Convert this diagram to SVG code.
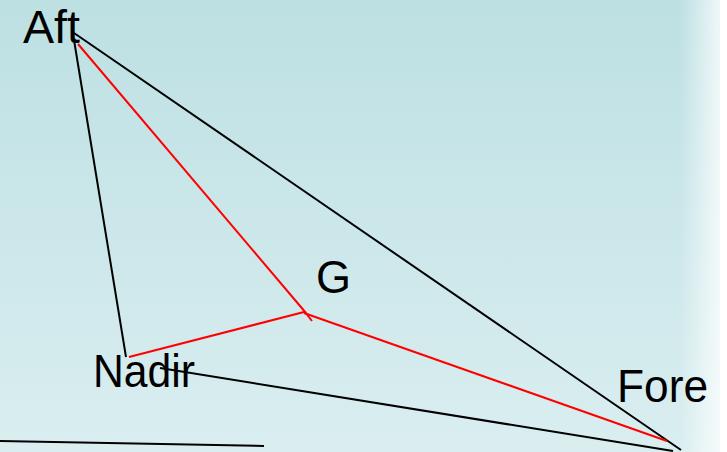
<svg xmlns="http://www.w3.org/2000/svg" width="727" height="452" viewBox="0 0 727 452">
<defs>
<linearGradient id="bg" x1="0" y1="0" x2="0" y2="1">
<stop offset="0" stop-color="#bde0e3"/>
<stop offset="1" stop-color="#daeef0"/>
</linearGradient>
<linearGradient id="edge" x1="0" y1="0" x2="1" y2="0">
<stop offset="0" stop-color="#ffffff" stop-opacity="0"/>
<stop offset="1" stop-color="#ffffff" stop-opacity="0.75"/>
</linearGradient>
<style>
.lbl{font-family:"Liberation Sans",Arial,sans-serif;font-size:46px;fill:#000}
.blk{stroke:#000;stroke-width:2;fill:none}
.red{stroke:#ff0000;stroke-width:2;fill:none}
</style>
</defs>
<rect x="0" y="0" width="727" height="452" fill="url(#bg)"/>
<rect x="680" y="0" width="40" height="452" fill="url(#edge)"/>
<rect x="720" y="0" width="7" height="452" fill="#ffffff"/>
<g id="connectors">
<line class="blk" x1="74" y1="33" x2="681" y2="450"/>
<line class="blk" x1="74" y1="40" x2="126" y2="357"/>
<line class="blk" x1="160" y1="368" x2="673" y2="451"/>
<line class="red" x1="78" y1="44" x2="306" y2="313"/>
<line class="red" x1="129" y1="357" x2="304" y2="312"/>
<line class="red" x1="304" y1="313" x2="667" y2="441"/>
<line class="red" x1="305" y1="312" x2="312" y2="321"/>
<line class="blk" x1="0" y1="441" x2="264" y2="446"/>
</g>
<g id="aft"><text class="lbl" x="23" y="43" textLength="57" lengthAdjust="spacingAndGlyphs">Aft</text></g>
<g id="g"><text class="lbl" x="316" y="293" textLength="35" lengthAdjust="spacingAndGlyphs">G</text></g>
<g id="nadir"><text class="lbl" x="93" y="387" textLength="102" lengthAdjust="spacingAndGlyphs">Nadir</text></g>
<g id="fore"><text class="lbl" x="617" y="402" textLength="91" lengthAdjust="spacingAndGlyphs">Fore</text></g>
</svg>
